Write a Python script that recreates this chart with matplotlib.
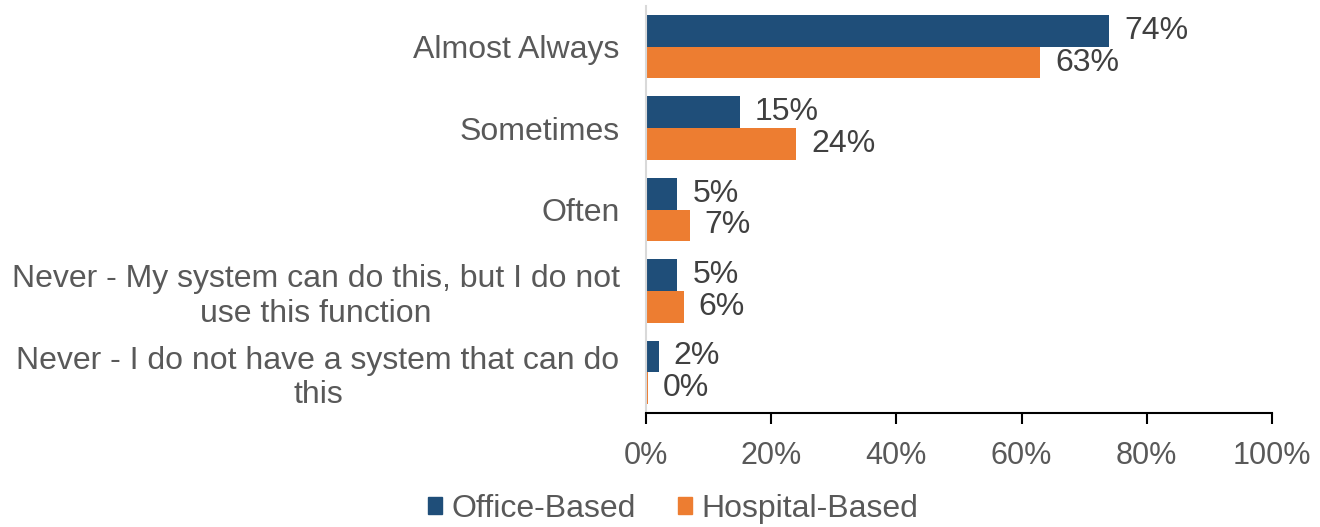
import numpy as np
import matplotlib
matplotlib.use('Agg')
import matplotlib.pyplot as plt
from matplotlib.patches import Patch

plt.rcParams['font.family'] = ['Liberation Sans', 'DejaVu Sans']

categories = ['Almost Always', 'Sometimes', 'Often',
              'Never - My system can do this, but I do not\nuse this function',
              'Never - I do not have a system that can do\nthis']
office = [74, 15, 5, 5, 2]
hospital = [63, 24, 7, 6, 0.3]
office_labels = ['74%', '15%', '5%', '5%', '2%']
hospital_labels = ['63%', '24%', '7%', '6%', '0%']

blue = '#1F4E79'
orange = '#ED7D31'
grey = '#595959'
fs = 23

fig = plt.figure(figsize=(13.2, 5.27), dpi=100)
ax = fig.add_axes([0.4894, 0.2163, 0.4742, 0.7723])

y = np.arange(len(categories))
h = 0.39
ax.barh(y - h / 2, office, height=h, color=blue)
ax.barh(y + h / 2, hospital, height=h, color=orange)

for i in range(len(categories)):
    ax.text(office[i] + 2.4, y[i] - h / 2, office_labels[i], va='center', ha='left',
            fontsize=fs, color='#404040')
    ax.text(hospital[i] + 2.4, y[i] + h / 2, hospital_labels[i], va='center', ha='left',
            fontsize=fs, color='#404040')

ax.set_ylim(len(categories) - 0.5, -0.5)
ax.set_xlim(0, 100)
ax.set_yticks(y)
ax.set_yticklabels(categories, fontsize=fs, color=grey, multialignment='center', linespacing=1.2)
ax.tick_params(axis='y', length=0, pad=19)
ax.set_xticks([0, 20, 40, 60, 80, 100])
ax.set_xticklabels(['0%', '20%', '40%', '60%', '80%', '100%'], fontsize=22, color=grey)
ax.tick_params(axis='x', direction='out', length=8, width=1.5, color='black', pad=12)

for s in ['top', 'right']:
    ax.spines[s].set_visible(False)
ax.spines['left'].set_color('#D9D9D9')
ax.spines['left'].set_linewidth(1.5)
ax.spines['bottom'].set_color('black')
ax.spines['bottom'].set_linewidth(1.5)

handles = [Patch(color=blue, label='Office-Based'), Patch(color=orange, label='Hospital-Based')]
leg = fig.legend(handles=handles, loc='lower center', bbox_to_anchor=(0.51, -0.048), ncol=2,
                 frameon=False, fontsize=fs, handlelength=0.45, handleheight=0.45,
                 handletextpad=0.3, columnspacing=1.3)
for t in leg.get_texts():
    t.set_color(grey)

fig.savefig('out.png', dpi=100)
